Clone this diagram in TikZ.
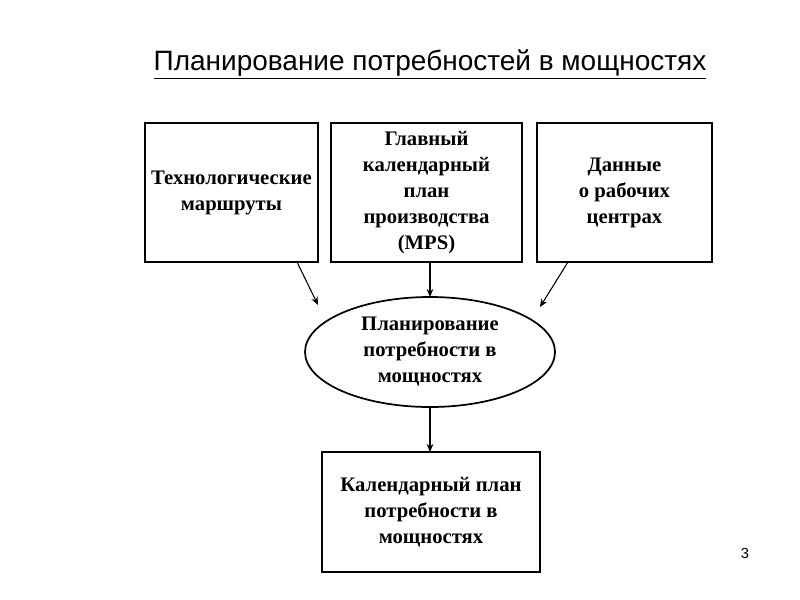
\documentclass[tikz,border=0pt]{standalone}
\usepackage{fontspec}
\setmainfont{Liberation Serif}
\newfontfamily\arialf{Liberation Sans}
\usetikzlibrary{shapes.geometric,arrows.meta}
\tikzset{
  blk/.style={draw,line width=1.3pt,align=center,font=\bfseries\fontsize{15.5}{19.5}\selectfont},
  arr/.style={-{Stealth[length=6pt,width=5pt]},line width=0.8pt}
}
\begin{document}
\begin{tikzpicture}[x=0.75pt,y=-0.75pt]
\useasboundingbox (0,0) rectangle (800,600);
\node[font=\arialf\fontsize{21}{24}\selectfont] (title) at (430,64) {\underline{Планирование потребностей в мощностях}};
\node[blk,minimum width=173*0.75pt,minimum height=139*0.75pt] (tech) at (231.5,192.5) {Технологические\\маршруты};
\node[blk,minimum width=191*0.75pt,minimum height=139*0.75pt] (mps) at (426.5,192.5) {Главный\\календарный\\план\\производства\\(MPS)};
\node[blk,minimum width=175*0.75pt,minimum height=139*0.75pt] (data) at (624.5,192.5) {Данные\\о рабочих\\центрах};
\node[blk,ellipse,minimum width=250*0.75pt,minimum height=110*0.75pt,inner sep=0pt] (plan) at (430,352) {Планирование\\потребности в\\мощностях};
\node[blk,minimum width=218*0.75pt,minimum height=120*0.75pt] (cal) at (431,512) {Календарный план\\потребности в\\мощностях};
\node[font=\arialf\fontsize{11}{13}\selectfont] (num) at (745,553) {3};
\coordinate (m1) at (430,262);
\coordinate (m2) at (430,297);
\coordinate (p1) at (430,407);
\coordinate (p2) at (430,452);
\draw[arr] (297,262) -- (318,305);
\draw[arr] (m1) -- (m2);
\draw[arr] (568,262) -- (540,307);
\draw[arr] (p1) -- (p2);
\end{tikzpicture}
\end{document}
